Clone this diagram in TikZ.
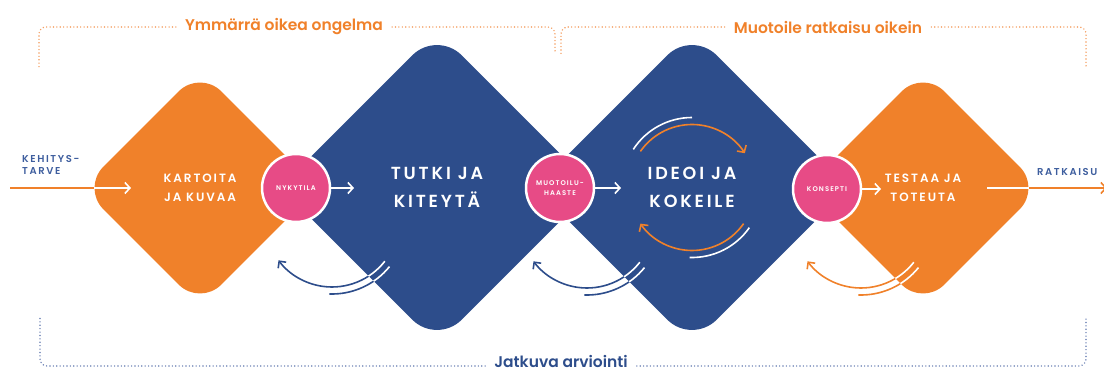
\documentclass[tikz,border=0pt]{standalone}
\usepackage{fontspec}
\setmainfont{Poppins}[UprightFont=* Medium, BoldFont=* SemiBold]
\newfontfamily\capsfont{Poppins}[UprightFont=* Medium, BoldFont=* SemiBold, LetterSpace=16]
\usetikzlibrary{shapes.geometric,arrows.meta,positioning}

\definecolor{orangeA}{HTML}{F0812A}
\definecolor{blueA}{HTML}{2D4D8B}
\definecolor{pinkA}{HTML}{E74B86}
\definecolor{blueText}{HTML}{3E5E9E}
\definecolor{orangeDot}{HTML}{F4A064}
\definecolor{blueDot}{HTML}{6F84B6}

\tikzset{
  stage/.style={shape=diamond, aspect=1, rounded corners=30pt, minimum width=236pt, minimum height=236pt,
    inner sep=0pt, text=white, align=center, font=\capsfont\bfseries\fontsize{12}{19}\selectfont},
  bigstage/.style={stage, fill=blueA, rounded corners=35pt, minimum width=314pt, minimum height=314pt,
    font=\capsfont\bfseries\fontsize{17.5}{28}\selectfont},
  gate/.style={circle, fill=pinkA, draw=white, line width=2.5pt, minimum size=68pt, inner sep=0pt,
    text=white, align=center, font=\capsfont\bfseries\fontsize{6.8}{10}\selectfont},
  sidetext/.style={text=blueText, align=left, inner sep=0pt, font=\capsfont\bfseries\fontsize{10}{12.5}\selectfont},
  headtext/.style={inner xsep=9pt, inner ysep=2pt, font=\bfseries\fontsize{15.5}{18}\selectfont},
  flow/.style={white, line width=1.6pt, -{Straight Barb[length=5pt,width=11pt]}},
  feed/.style={orangeA, line width=1.6pt},
  loopback/.style={line width=1.6pt},
  spin/.style={orangeA, line width=1.6pt, -{Straight Barb[length=5pt,width=11pt]}},
  bracket/.style={line width=1.6pt, dash pattern=on 0pt off 3.4pt, line cap=round, rounded corners=7pt}
}

\begin{document}
\begin{tikzpicture}[x=1pt,y=-1pt]
\useasboundingbox (0,0) rectangle (1104,371);

% the four stages
\node[stage, fill=orangeA] (kartoita) at (200,188) {KARTOITA\\JA KUVAA};
\node[bigstage] (tutki) at (437,187.5) {TUTKI JA\\KITEYTÄ};
\node[bigstage] (ideoi) at (692,187.5) {IDEOI JA\\KOKEILE};
\node[stage, fill=orangeA] (testaa) at (923,188) {TESTAA JA\\TOTEUTA};

% outputs between stages
\node[gate] (nykytila) at (296,188) {NYKYTILA};
\node[gate] (haaste) at (560,188) {MUOTOILU-\\HAASTE};
\node[gate] (konsepti) at (827,189) {KONSEPTI};

\node[sidetext, anchor=west] (tarve) at (22,165) {KEHITYS-\\TARVE};
\node[sidetext, anchor=west] (ratkaisu) at (1037,172) {RATKAISU};

% main flow
\coordinate (start) at (10,188);
\coordinate (kartoita-rim) at ([xshift=12pt]kartoita.west);
\coordinate (kartoita-in) at (131,188);
\coordinate (tutki-in) at (354,188);
\coordinate (ideoi-in) at (621,188);
\coordinate (testaa-in) at (881,189);
\coordinate (testaa-out) at (987,188);
\coordinate (testaa-rim) at ([xshift=-12pt]testaa.east);
\coordinate (finish) at (1107,188);

\draw[feed] (start) -- (kartoita-rim);
\draw[flow] (kartoita-rim) -- (kartoita-in);
\draw[flow] (nykytila.east) -- (tutki-in);
\draw[flow] (haaste.east) -- (ideoi-in);
\draw[flow] (konsepti.east) -- (testaa-in);
\draw[white, line width=1.6pt] (testaa-out) -- (testaa-rim);
\draw[feed, -{Straight Barb[length=5pt,width=11pt]}] (testaa-rim) -- (finish);

% iterate inside ideoi
\draw[spin] (ideoi) ++(215:63) arc[start angle=215, end angle=327, radius=63];
\draw[spin] (ideoi) ++(35:63) arc[start angle=35, end angle=145, radius=63];
\draw[white, line width=1.6pt] (ideoi) ++(213:70) arc[start angle=213, end angle=270, radius=70];
\draw[white, line width=1.6pt] (ideoi) ++(35:70) arc[start angle=35, end angle=92, radius=70];

% going back a step
\foreach \cx/\cy/\col/\stage in {332/220/blueA/tutki, 587/221/blueA/ideoi, 861/221/orangeA/testaa}{
  \draw[loopback, \col, -{Straight Barb[length=5pt,width=10pt]}] (\cx,\cy) ++(38:67) arc[start angle=38, end angle=143, radius=67];
  \draw[loopback, \col] (\cx,\cy) ++(39:74) arc[start angle=39, end angle=92, radius=74];
  \begin{scope}
    \clip (\stage.west) -- (\stage.south) -- (\stage.east) -- (\stage.north) -- cycle;
    \draw[loopback, white] (\cx,\cy) ++(38:67) arc[start angle=38, end angle=143, radius=67];
    \draw[loopback, white] (\cx,\cy) ++(39:74) arc[start angle=39, end angle=92, radius=74];
  \end{scope}
}

% phases
\node[headtext, text=orangeA] (understand) at (284,27) {Ymmärrä oikea ongelma};
\node[headtext, text=orangeA] (design) at (828,27) {Muotoile ratkaisu oikein};
\node[headtext, text=blueA, anchor=base, inner ysep=0pt] (evaluate) at (561,368) {Jatkuva arviointi};

\draw[bracket, orangeDot] (understand.west) -| (39,68);
\draw[bracket, orangeDot] (understand.east) -| (555,54);
\draw[bracket, orangeDot] (design.west) -| (561,54);
\draw[bracket, orangeDot] (design.east) -| (1086,68);
\draw[bracket, blueDot] ([yshift=-4pt]evaluate.west) -| (40,318);
\draw[bracket, blueDot] ([yshift=-4pt]evaluate.east) -| (1086,317);
\end{tikzpicture}
\end{document}
